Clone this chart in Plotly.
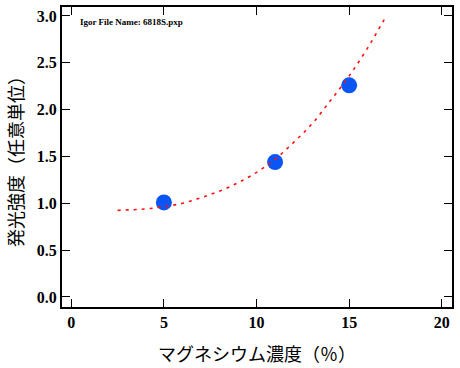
import plotly.graph_objects as go

# measured data points
mg_conc = [5, 11, 15]
intensity = [1.01, 1.44, 2.26]

# fitted curve
fit_x = [2.5, 4, 5, 6, 7, 8, 9, 10, 11, 12, 13, 14, 15, 16, 17]
fit_y = [0.925, 0.94, 0.965, 1.0, 1.06, 1.13, 1.22, 1.33, 1.47, 1.65, 1.85, 2.1, 2.36, 2.66, 3.0]

x_ticks = [0, 5, 10, 15, 20]
y_ticks = [0.0, 0.5, 1.0, 1.5, 2.0, 2.5, 3.0]
y_ticklabels = ["0.0", "0.5", "1.0", "1.5", "2.0", "2.5", "3.0"]

fig = go.Figure()
fig.add_trace(go.Scatter(
    x=mg_conc, y=intensity, mode="markers",
    marker=dict(size=16, color="#0A55F5", line=dict(width=0)),
    showlegend=False))
fig.add_trace(go.Scatter(
    x=fit_x, y=fit_y, mode="lines", line_shape="spline",
    line=dict(color="#FF1010", width=1.6, dash="3px,5px"),
    showlegend=False))

serif = "Liberation Serif"
cjk = "Noto Sans CJK JP"

fig.update_layout(
    width=460, height=368,
    margin=dict(l=62, r=8, t=7, b=61),
    paper_bgcolor="white", plot_bgcolor="white",
    xaxis=dict(
        range=[-0.5, 20.55], tickvals=x_ticks, ticktext=[str(v) for v in x_ticks],
        ticks="inside", ticklen=8, tickwidth=1.3, tickcolor="black",
        showline=True, linecolor="black", linewidth=2, mirror="ticks",
        showgrid=False, zeroline=False, automargin=False,
        tickfont=dict(family=serif, size=16, color="black", weight="bold"),
        title=dict(text="マグネシウム濃度（％）", font=dict(family=cjk, size=18, color="black"), standoff=18),
    ),
    yaxis=dict(
        range=[-0.107, 3.096], tickvals=y_ticks, ticktext=y_ticklabels,
        ticks="inside", ticklen=8, tickwidth=1.3, tickcolor="black",
        showline=True, linecolor="black", linewidth=2, mirror="ticks",
        showgrid=False, zeroline=False, automargin=False,
        tickfont=dict(family=serif, size=16, color="black", weight="bold"),
        title=dict(text="発光強度（任意単位）", font=dict(family=cjk, size=18, color="black"), standoff=8),
    ),
    annotations=[dict(
        text="Igor File Name: 6818S.pxp", xref="paper", yref="paper",
        x=0.04, y=0.972, xanchor="left", yanchor="top", showarrow=False,
        font=dict(family=serif, size=9, color="black", weight="bold"))],
)

fig.write_html("out.html", config={"displayModeBar": False},
               post_script="document.body.style.margin='0';document.body.style.overflow='hidden';")
